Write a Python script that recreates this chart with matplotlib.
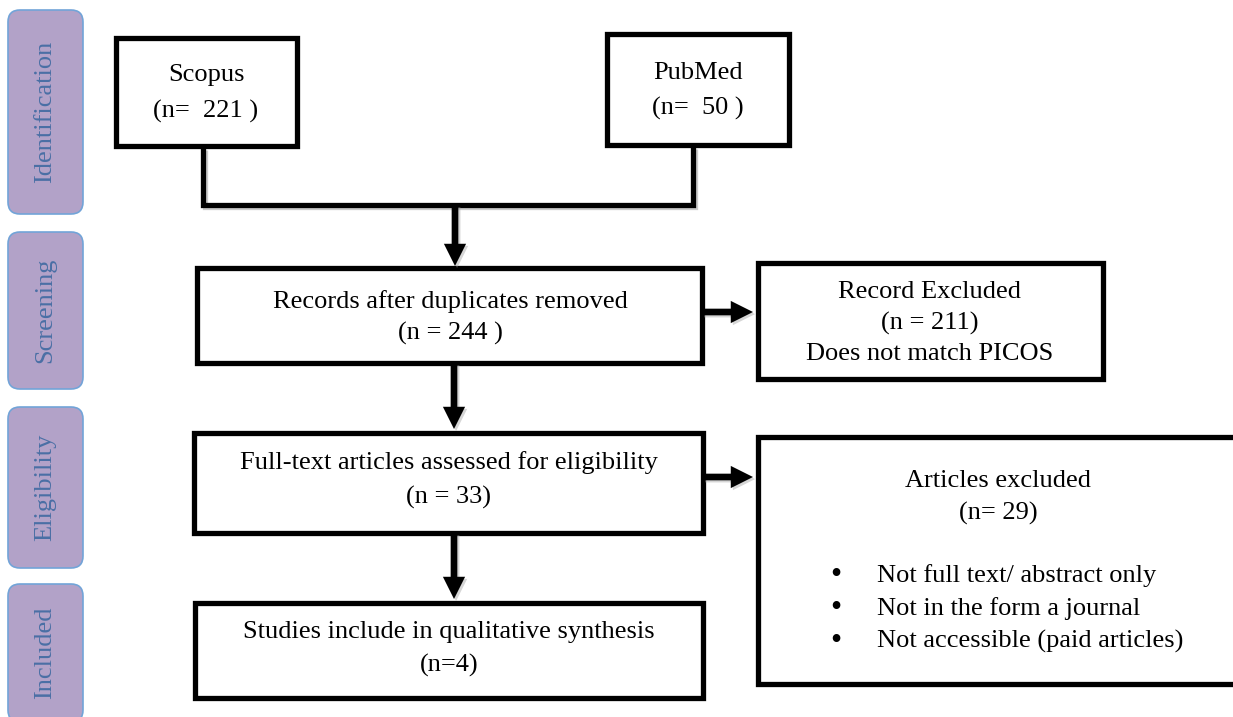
#PRISMA style flow chart: identification -> screening -> eligibility -> included
#drawn in pixel coordinates on one axes that fills the figure

import matplotlib
matplotlib.use('Agg')
import matplotlib.pyplot as plt
from matplotlib.patches import Rectangle, FancyBboxPatch
import matplotlib.patheffects as pe

#stage labels down the left side
stages = ['Identification', 'Screening', 'Eligibility', 'Included']

#sources and their counts
sources = ['Scopus', 'PubMed']
source_n = [221, 50]

#counts through the flow
after_duplicates = 244
record_excluded = 211
full_text = 33
articles_excluded = 29
included = 4

exclusion_reasons = ['Not full text/ abstract only',
                     'Not in the form a journal',
                     'Not accessible (paid articles)']

SERIF = 'Liberation Serif'
FS = 19
LW = 3.8
shadow = [pe.SimpleLineShadow(offset=(1.5, -1.5), shadow_color='0.6', alpha=0.5), pe.Normal()]

fig = plt.figure(figsize=(12.33, 7.17), dpi=100)
ax = fig.add_axes([0, 0, 1, 1])
ax.set_xlim(0, 1233)
ax.set_ylim(717, 0)
ax.axis('off')


def box(x0, y0, x1, y1):
    r = Rectangle((x0, y0), x1 - x0, y1 - y0, facecolor='white',
                  edgecolor='black', linewidth=LW, joinstyle='miter', zorder=3)
    r.set_path_effects([pe.SimplePatchShadow(offset=(1.5, -1.5), shadow_rgbFace='0.6', alpha=0.4), pe.Normal()])
    ax.add_patch(r)


def line(xs, ys):
    ax.plot(xs, ys, color='black', linewidth=LW, solid_joinstyle='miter',
            solid_capstyle='butt', zorder=2, path_effects=shadow)


def arrow(x0, y0, x1, y1):
    ax.annotate('', xy=(x1, y1), xytext=(x0, y0),
                arrowprops=dict(arrowstyle='simple,head_length=0.8,head_width=0.8,tail_width=0.24',
                                facecolor='black', edgecolor='none', lw=0, shrinkA=0, shrinkB=0,
                                mutation_scale=20,
                                path_effects=[pe.SimplePatchShadow(offset=(1.5, -1.5), shadow_rgbFace='0.6', alpha=0.4), pe.Normal()]),
                zorder=4)


def label(x, y, s, **kw):
    ax.text(x, y, s, family=SERIF, fontsize=FS, ha='center', va='center', zorder=5, **kw)


#side stage labels
stage_spans = [(10, 214), (232, 389), (407, 568), (584, 722)]
for name, (top, bottom) in zip(stages, stage_spans):
    p = FancyBboxPatch((8, top), 75, bottom - top,
                       boxstyle='round,pad=0,rounding_size=12',
                       facecolor='#b2a2c8', edgecolor='#72a4d8', linewidth=1.2, zorder=3)
    ax.add_patch(p)
    ax.text(45.5, (top + bottom) / 2, name, family=SERIF, fontsize=19,
            color='#4a6fa5', rotation=90, ha='center', va='center', zorder=5)

#source boxes
box(116, 38, 297, 146)
label(206, 75, sources[0])
label(206, 111, '(n=  %d )' % source_n[0])

box(607, 34, 789, 145)
label(698, 73, sources[1])
label(698, 108, '(n=  %d )' % source_n[1])

#merge the two sources
line([203, 203, 693, 693], [148, 205, 205, 147])
arrow(455, 205, 455, 266)

#screening
box(197, 268, 702, 363)
label(450, 302, 'Records after duplicates removed')
label(450, 333, '(n = %d )' % after_duplicates)
arrow(702, 312, 753, 312)

box(758, 263, 1103, 379)
label(930, 292, 'Record Excluded')
label(930, 323, '(n = %d)' % record_excluded)
label(930, 354, 'Does not match PICOS')

#eligibility
arrow(454, 363, 454, 429)
box(194, 433, 703, 533)
label(449, 463, 'Full-text articles assessed for eligibility')
label(449, 497, '(n = %d)' % full_text)
arrow(703, 477, 753, 477)

box(758, 437, 1245, 684)
label(998, 481, 'Articles excluded')
label(998, 513, '(n= %d)' % articles_excluded)
for i, reason in enumerate(exclusion_reasons):
    y = 576 + i * 32.5
    ax.text(836, y, '\u2022', family=SERIF, fontsize=FS + 4, ha='center', va='center', zorder=5)
    ax.text(877, y, reason, family=SERIF, fontsize=FS, ha='left', va='center', zorder=5)

#included
arrow(454, 533, 454, 599)
box(195, 603, 703, 698)
label(449, 632, 'Studies include in qualitative synthesis')
label(449, 665, '(n=%d)' % included)

fig.savefig('out.png', dpi=100)
